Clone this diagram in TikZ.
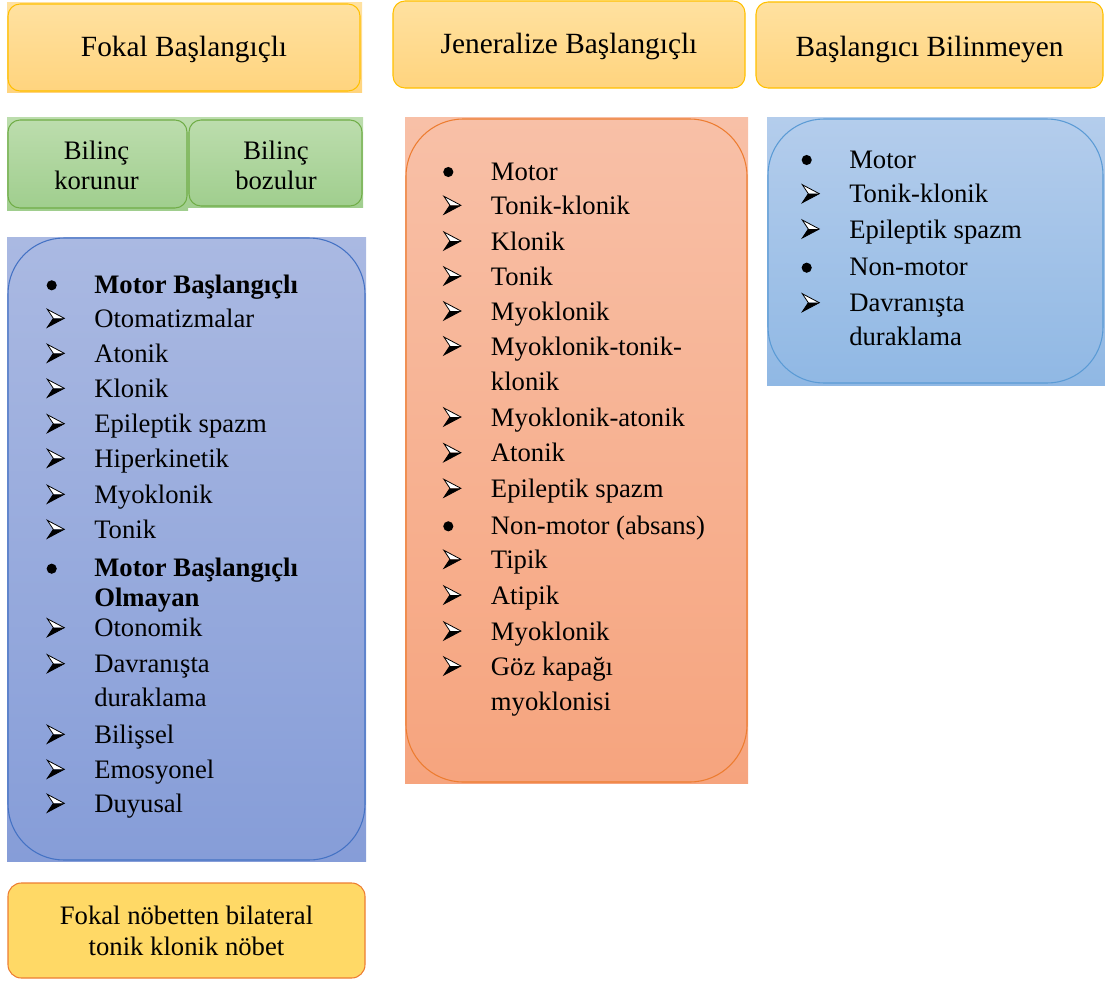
\documentclass[tikz,border=0pt]{standalone}
\usepackage{fontspec}
\setmainfont{Liberation Serif}
\definecolor{ylT}{RGB}{255,225,160}
\definecolor{ylB}{RGB}{255,212,126}
\definecolor{ylD}{RGB}{255,192,0}
\definecolor{grT}{RGB}{188,221,173}
\definecolor{grB}{RGB}{160,206,142}
\definecolor{grD}{RGB}{112,173,71}
\definecolor{bAT}{RGB}{170,185,226}
\definecolor{bAB}{RGB}{134,157,216}
\definecolor{bAD}{RGB}{68,114,196}
\definecolor{orT}{RGB}{248,192,167}
\definecolor{orB}{RGB}{246,164,126}
\definecolor{orD}{RGB}{237,125,49}
\definecolor{bBT}{RGB}{180,205,236}
\definecolor{bBB}{RGB}{144,184,228}
\definecolor{bBD}{RGB}{91,155,213}
\definecolor{goldf}{RGB}{255,217,102}
\tikzset{
  arrb/.pic={
    \fill[white] (0,-18) -- (17,-9) -- (6,-9) -- cycle;
    \fill[black] (6,-9) -- (17,-9) -- (0,0) -- cycle;
    \draw[black, line width=0.6pt, line join=miter] (0,-18) -- (17,-9) -- (0,0) -- (6,-9) -- cycle;
  },
  itm/.style={anchor=base west, inner sep=0pt, font=\fontsize{20}{24}\selectfont},
  ttl/.style={anchor=base, inner sep=0pt, font=\fontsize{22}{26}\selectfont},
  ctr/.style={anchor=base, inner sep=0pt, font=\fontsize{20}{24}\selectfont},
  bord/.style={line width=0.8pt},
}
\newcommand\dotitem[3]{\fill ({\bx},{#2-8}) circle[radius=3.8pt]; \node[itm] (#1) at ({\tx},#2) {#3};}
\newcommand\arritem[3]{\pic at ({\bx-4.4},#2) {arrb}; \node[itm] (#1) at ({\tx},#2) {#3};}
\newcommand\conitem[3]{\node[itm] (#1) at ({\tx},#2) {#3};}
\begin{document}
\begin{tikzpicture}[x=0.75pt,y=-0.75pt]
\useasboundingbox (0,0) rectangle (1105,981);
% ---- top title boxes
\path[top color=ylT, bottom color=ylB] (7,3) rectangle (362,92);
\path[top color=ylT, bottom color=ylB, draw=ylD, bord, rounded corners=9pt] (8,4) rectangle (360,91);
\node[ttl] (t1) at (184,56) {Fokal Başlangıçlı};
\path[top color=ylT, bottom color=ylB, draw=ylD, bord, rounded corners=9pt] (393,1) rectangle (745,88);
\node[ttl] (t2) at (569,54) {Jeneralize Başlangıçlı};
\path[top color=ylT, bottom color=ylB, draw=ylD, bord, rounded corners=9pt] (756,2) rectangle (1103,88);
\node[ttl] (t3) at (929.5,56) {Başlangıcı Bilinmeyen};
% ---- green boxes
\path[top color=grT, bottom color=grB] (7,117) rectangle (188,210);
\path[top color=grT, bottom color=grB] (188,117) rectangle (363,207);
\path[top color=grT, bottom color=grB, draw=grD, bord, rounded corners=9pt] (8,120) rectangle (187,208);
\path[top color=grT, bottom color=grB, draw=grD, bord, rounded corners=9pt] (189,120) rectangle (362,206);
\node[ctr] (g1a) at (96.5,159) {Bilinç};
\node[ctr] (g1b) at (96.5,189) {korunur};
\node[ctr] (g2a) at (276,159) {Bilinç};
\node[ctr] (g2b) at (276,189) {bozulur};
% ---- left blue box
\path[top color=bAT, bottom color=bAB] (7,237) rectangle (366,861);
\path[draw=bAD, bord, rounded corners=42pt] (8,238) rectangle (365,860);
\def\bx{51.7}\def\tx{94}
\dotitem{L1}{293.3}{\textbf{Motor Başlangıçlı}}
\arritem{L2}{327.3}{Otomatizmalar}
\arritem{L3}{362.3}{Atonik}
\arritem{L4}{397.3}{Klonik}
\arritem{L5}{432.7}{Epileptik spazm}
\arritem{L6}{467.3}{Hiperkinetik}
\arritem{L7}{503.3}{Myoklonik}
\arritem{L8}{538.3}{Tonik}
\dotitem{L9}{576.7}{\textbf{Motor Başlangıçlı}}
\conitem{L10}{606.7}{\textbf{Olmayan}}
\arritem{L11}{636.7}{Otonomik}
\arritem{L12}{672.7}{Davranışta}
\conitem{L13}{706.7}{duraklama}
\arritem{L14}{743.3}{Bilişsel}
\arritem{L15}{778.3}{Emosyonel}
\arritem{L16}{812.3}{Duyusal}
% ---- orange box
\path[top color=orT, bottom color=orB] (405,117) rectangle (748,783);
\path[draw=orD, bord, rounded corners=43pt] (406,119) rectangle (747,782);
\def\bx{448.3}\def\tx{490.7}
\dotitem{M1}{180}{Motor}
\arritem{M2}{214.3}{Tonik-klonik}
\arritem{M3}{250}{Klonik}
\arritem{M4}{285}{Tonik}
\arritem{M5}{320}{Myoklonik}
\arritem{M6}{355}{Myoklonik-tonik-}
\conitem{M7}{390.7}{klonik}
\arritem{M8}{426}{Myoklonik-atonik}
\arritem{M9}{461.7}{Atonik}
\arritem{M10}{497.3}{Epileptik spazm}
\dotitem{M11}{534.3}{Non-motor (absans)}
\arritem{M12}{568.3}{Tipik}
\arritem{M13}{604}{Atipik}
\arritem{M14}{640}{Myoklonik}
\arritem{M15}{675}{Göz kapağı}
\conitem{M16}{710}{myoklonisi}
% ---- right blue box
\path[top color=bBT, bottom color=bBB] (767,117) rectangle (1105,385);
\path[draw=bBD, bord, rounded corners=42pt] (768,119) rectangle (1103,383);
\def\bx{806.7}\def\tx{849}
\dotitem{R1}{168}{Motor}
\arritem{R2}{202.7}{Tonik-klonik}
\arritem{R3}{238}{Epileptik spazm}
\dotitem{R4}{275.7}{Non-motor}
\arritem{R5}{311.7}{Davranışta}
\conitem{R6}{345.7}{duraklama}
% ---- bottom box
\path[fill=goldf, draw=orD, bord, rounded corners=10pt] (8,883) rectangle (365,978);
\node[ctr] (b1) at (186.5,924) {Fokal nöbetten bilateral};
\node[ctr] (b2) at (186.5,955) {tonik klonik nöbet};
\end{tikzpicture}
\end{document}
